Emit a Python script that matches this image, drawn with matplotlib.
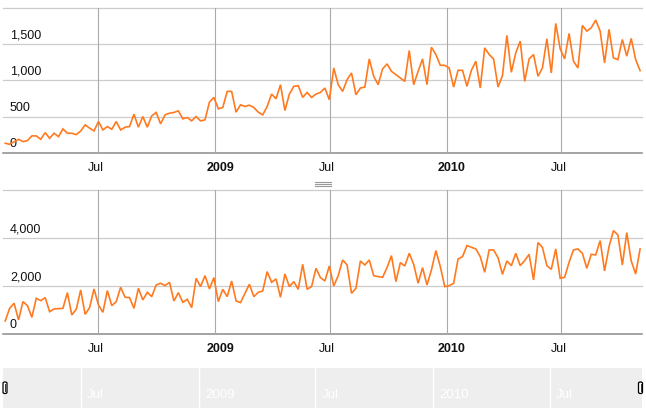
import matplotlib
matplotlib.use('Agg')
import matplotlib.pyplot as plt
from matplotlib.lines import Line2D
from matplotlib.patches import FancyBboxPatch
import pandas as pd

plt.rcParams['font.family'] = ['Liberation Sans', 'DejaVu Sans']

# ---------------- data ----------------
start_date = '2008-02-05'
top_values = [
    130, 116, 150, 185, 153, 167, 232, 232, 185, 278, 199, 269, 222, 329, 269, 269, 250, 300,
    384, 340, 301, 431, 315, 361, 324, 431, 315, 352, 361, 532, 352, 500, 352, 509, 556, 398,
    523, 546, 556, 579, 468, 486, 440, 500, 440, 454, 699, 764, 607, 625, 847, 847, 560, 662,
    639, 657, 625, 560, 523, 639, 810, 745, 940, 583, 810, 917, 926, 764, 833, 764, 810, 833,
    894, 732, 1171, 940, 847, 1009, 1102, 801, 894, 907, 1296, 1056, 940, 1158, 1227, 1125,
    1079, 1032, 986, 1412, 940, 1125, 1296, 940, 1458, 1357, 1208, 1208, 1171, 907, 1139, 1139,
    917, 1139, 1264, 894, 1449, 1357, 1296, 907, 1065, 1621, 1111, 1380, 1542, 986, 1296, 1357,
    1056, 1171, 1574, 1102, 1787, 1435, 1296, 1648, 1264, 1171, 1759, 1681, 1727, 1833, 1681,
    1240, 1704, 1310, 1287, 1565, 1334, 1579, 1287, 1134,
]
bottom_values = [
    556, 1083, 1292, 597, 1361, 1195, 708, 1500, 1403, 1528, 944, 1056, 1069, 1083, 1736, 806,
    1042, 1847, 833, 1111, 1889, 1222, 917, 1820, 1195, 1361, 1958, 1542, 1528, 1083, 1917,
    1431, 1750, 1570, 2056, 2125, 2028, 2167, 1389, 1736, 1333, 1458, 1111, 2333, 1986, 2444,
    1889, 2361, 1361, 1875, 1570, 2222, 1389, 1320, 1708, 2083, 1570, 1750, 1806, 2611, 2167,
    2306, 1542, 2514, 1986, 2194, 1875, 2917, 1875, 1986, 2750, 2361, 2222, 2847,
    2014, 2444, 3097, 2889, 1708, 1917, 3056, 2889, 3097, 2444, 2403, 2375, 2778, 3278, 2194,
    2986, 2847, 3375, 2917, 2125, 2778, 2056, 2681, 3486, 2820, 1986, 2028, 2125, 3139, 3236,
    3695, 3625, 3556, 3236, 2583, 3514, 3514, 3195, 2500, 3056, 2861, 3375, 2861, 3070, 3333,
    2264, 3820, 3625, 2861, 2708, 3556, 2333, 2375, 3000, 3514, 3556, 3375, 2750, 3333, 3306,
    3903, 2639, 3653, 4320, 4139, 2889, 4236, 3056, 2514, 3556,
]
top_yticks = [0, 500, 1000, 1500]
top_ymax = 2000
bottom_yticks = [0, 2000, 4000]
bottom_ymax = 6000
month_ticks = ['2008-07-01', '2009-01-01', '2009-07-01', '2010-01-01', '2010-07-01']
month_labels = ['Jul', '2009', 'Jul', '2010', 'Jul']
main_xrange = ('2008-02-01 12:00', '2010-11-05 00:00')
selector_xrange = ('2008-03-01 00:00', '2010-11-22 00:00')

# ---------------- layout helpers ----------------
W, H = 646, 413
fig = plt.figure(figsize=(W / 100, H / 100), dpi=100)


def rect(x0, y0, x1, y1):
    return [x0 / W, 1 - y1 / H, (x1 - x0) / W, (y1 - y0) / H]


LINE_COLOR = '#ff7a1f'
GRID = '#cccccc'
VGRID = '#aaaaaa'
BASE = '#8a8a8a'

tick_dates = pd.to_datetime(month_ticks, format='ISO8601')
xlim = pd.to_datetime(list(main_xrange), format='ISO8601')


def panel(box, values, yticks, ymax):
    ax = fig.add_axes(box)
    dates = pd.date_range(start_date, periods=len(values), freq='7D')
    ax.set_xlim(xlim[0], xlim[1])
    ax.set_ylim(0, ymax)
    for s in ax.spines.values():
        s.set_visible(False)
    ax.set_xticks([])
    ax.set_yticks([])
    for v in yticks[1:] + [ymax]:
        ax.axhline(v, color=GRID, lw=0.9, zorder=1, clip_on=False)
    ax.axhline(0, color=BASE, lw=1.1, zorder=1, clip_on=False)
    for d in tick_dates:
        ax.axvline(d, color=VGRID, lw=0.8, zorder=1)
    for v in yticks:
        lab = f'{v:,}'
        ax.annotate(lab, xy=(7 / 639, v), xycoords=('axes fraction', 'data'),
                    xytext=(0, 9), textcoords='offset pixels',
                    ha='left', va='center', fontsize=9, color='#111111', zorder=2)
    ax.plot(dates, values, color=LINE_COLOR, lw=1.2, zorder=3, solid_joinstyle='miter')
    for d, lab in zip(tick_dates, month_labels):
        bold = lab.isdigit()
        ax.annotate(lab, xy=(d, 0), xycoords=('data', 'axes fraction'),
                    xytext=(5 if bold else -3, -15), textcoords='offset pixels',
                    ha='center', va='center', fontsize=9,
                    fontweight='bold' if bold else 'normal', color='#111111')
    return ax


panel(rect(3, 8, 642, 152.7), top_values, top_yticks, top_ymax)
panel(rect(3, 190.3, 642, 334.3), bottom_values, bottom_yticks, bottom_ymax)

# separator grip
for yy in (182.3, 184.3, 186.3):
    fig.add_artist(Line2D([315 / W, 331 / W], [1 - yy / H, 1 - yy / H],
                          color='#999999', lw=0.8))

# range selector
sax = fig.add_axes(rect(3, 368, 642, 408))
sax.set_facecolor('#eeeeee')
sx = pd.to_datetime(list(selector_xrange), format='ISO8601')
sax.set_xlim(sx[0], sx[1])
sax.set_ylim(0, 1)
for s in sax.spines.values():
    s.set_visible(False)
sax.set_xticks([])
sax.set_yticks([])
for d, lab in zip(tick_dates, month_labels):
    sax.axvline(d, color='white', lw=1.0)
    sax.annotate(lab, xy=(d, 0.325), xycoords=('data', 'axes fraction'),
                 xytext=(6, 0), textcoords='offset pixels',
                 ha='left', va='center', fontsize=9.5, color='white',
                 fontstretch='condensed')

# handles
for x0 in (3, 638.5):
    fig.add_artist(FancyBboxPatch((x0 / W, 1 - 393.5 / H), 4 / W, 11.5 / H,
                                  boxstyle='round,pad=0,rounding_size=0.003',
                                  facecolor='white', edgecolor='black', lw=0.9,
                                  transform=fig.transFigure))
    fig.add_artist(Line2D([(x0 + 2) / W] * 2, [1 - 391 / H, 1 - 384 / H],
                          color='#333333', lw=0.7))

fig.savefig('out.png', dpi=100)
